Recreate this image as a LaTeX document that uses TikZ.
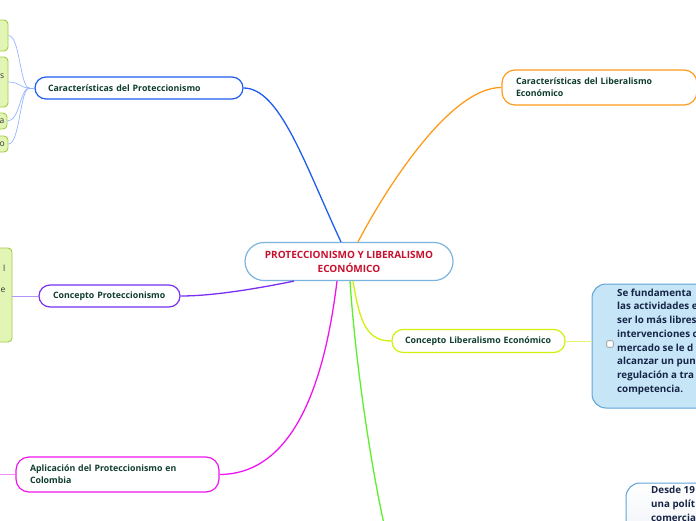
\documentclass[tikz,border=0pt]{standalone}
\usepackage{fontspec}
\setmainfont{Open Sans}
\definecolor{txtgreen}{RGB}{16,62,46}
\definecolor{cborder}{RGB}{122,180,222}
\definecolor{ctext}{RGB}{200,16,46}
\definecolor{cblue}{RGB}{31,92,240}
\definecolor{corange}{RGB}{255,155,26}
\definecolor{cpurple}{RGB}{122,47,240}
\definecolor{cmagenta}{RGB}{240,20,240}
\definecolor{cyellow}{RGB}{210,240,10}
\definecolor{cgreen}{RGB}{92,240,42}
\definecolor{leafgfill}{RGB}{227,245,180}
\definecolor{leafgdraw}{RGB}{160,205,70}
\definecolor{leafbfill}{RGB}{198,230,248}
\definecolor{leafbdraw}{RGB}{94,163,214}
\definecolor{navy}{RGB}{22,36,70}
\definecolor{greyfill}{RGB}{238,242,247}
\definecolor{lightblue}{RGB}{150,180,255}
\definecolor{lightpurple}{RGB}{180,150,250}
\definecolor{lightmagenta}{RGB}{250,140,250}
\definecolor{lightyellow}{RGB}{230,245,120}
\begin{document}
\begin{tikzpicture}[x=1pt,y=-1pt,
  topic/.style={draw, line width=1.2pt, fill=white, text=txtgreen,
    font=\fontsize{8.8}{12}\selectfont\bfseries, inner sep=0pt, align=left},
  central/.style={draw=cborder, line width=1.2pt, fill=white, text=ctext,
    font=\fontsize{10}{14}\selectfont\bfseries, inner sep=0pt, align=center,
    rounded corners=19pt, minimum width=208pt, minimum height=38pt},
  leafg/.style={draw=leafgdraw, line width=0.9pt, fill=leafgfill, rounded corners=4pt, inner sep=0pt},
  leafb/.style={draw=leafbdraw, line width=1pt, fill=leafbfill, rounded corners=14pt, inner sep=0pt},
  leafgrey/.style={draw=leafbdraw, line width=1pt, top color=white, bottom color=greyfill, rounded corners=14pt, inner sep=0pt},
  frag/.style={font=\fontsize{8.5}{9}\selectfont, text=black!80, inner sep=0pt},
  leaftext/.style={font=\fontsize{9.8}{13.7}\selectfont\bfseries, text=navy, inner sep=0pt, align=left},
  conn/.style={line width=1.3pt},
  thin/.style={line width=0.7pt}
]
\useasboundingbox (0,0) rectangle (696,520);

% leaf boxes on the left
\node[leafg, minimum width=18pt, minimum height=31pt] (g1) at (-1,35.5) {};
\node[leafg, minimum width=18pt, minimum height=50pt] (g2) at (-1,82) {};
\node[leafg, minimum width=16pt, minimum height=16pt] (g3) at (-1,121) {};
\node[leafg, minimum width=18pt, minimum height=16pt] (g4) at (-1,144) {};
\node[leafg, minimum width=24pt, minimum height=94pt] (g5) at (0,295) {};
\node[frag, anchor=east] (f2) at (4.5,76) {s};
\node[frag, anchor=east] (f3) at (4.5,121) {a};
\node[frag, anchor=east] (f4) at (5,144) {o};
\node[frag, anchor=east] (f5a) at (5.5,268) {l};
\node[frag, anchor=east] (f5b) at (5.5,290) {e};

% right leaves
\node[leafb, minimum width=120pt, minimum height=124pt] (bl) at (652,346) {};
\node[leaftext, anchor=north west] (bltext) at (617,288.5) {Se fundamenta\\las actividades e\\ser lo más libres\\intervenciones c\\mercado se le d\\alcanzar un pun\\regulación a tra\\competencia.};
\node[draw=black!45, fill=white, line width=0.6pt, rounded corners=1pt, minimum size=6.5pt, inner sep=0pt] (chk) at (610,344) {};
\node[leafgrey, minimum width=96pt, minimum height=60pt] (gr) at (674,513) {};
\node[leaftext, anchor=north west] (grtext) at (651,486) {Desde 19\\una polít\\comercia};

% central
\node[central] (c) at (349,261.5) {PROTECCIONISMO Y LIBERALISMO\\ECONÓMICO};

% topics
\node[topic, draw=cblue, rounded corners=11pt, minimum width=208pt, minimum height=22pt, text width=182pt] (cp) at (139,88) {Características del Proteccionismo};
\node[topic, draw=corange, rounded corners=13pt, minimum width=195pt, minimum height=35pt, text width=167pt] (cl) at (599.5,87.5) {Características del Liberalismo\\Económico};
\node[topic, draw=cpurple, rounded corners=11pt, minimum width=141pt, minimum height=22pt, text width=113pt] (kp) at (109.5,296) {Concepto Proteccionismo};
\node[topic, draw=cyellow, rounded corners=11pt, minimum width=173pt, minimum height=23pt, text width=147pt] (kl) at (478.5,341) {Concepto Liberalismo Económico};
\node[topic, draw=cmagenta, rounded corners=13pt, minimum width=203pt, minimum height=35pt, text width=175pt] (ap) at (117.5,474.5) {Aplicación del Proteccionismo en\\Colombia};

\coordinate (gend) at (384,524);
\coordinate (mend) at (-3,474.5);
\coordinate (j1) at ([xshift=-5pt]cp.west);

% main connectors
\draw[conn, cblue] ([xshift=-8pt]c.north) .. controls (305,165) and (280,88) .. (cp.east);
\draw[conn, corange] ([xshift=9pt]c.north) .. controls (385,190) and (450,87) .. (cl.west);
\draw[conn, cpurple] ([xshift=-55pt]c.south) .. controls (250,290) and (210,296) .. (kp.east);
\draw[conn, cmagenta] ([xshift=-12pt]c.south) .. controls (325,380) and (295,474) .. (ap.east);
\draw[conn, cyellow] ([xshift=4pt]c.south) .. controls (360,325) and (368,341) .. (kl.west);
\draw[conn, cgreen] ([xshift=1pt]c.south) .. controls (356,370) and (372,470) .. (gend);

% sub connectors
\draw[thin, lightblue] (j1) -- (cp.west);
\draw[thin, lightblue] (j1) .. controls (20,88) and (20,35.5) .. (g1.east);
\draw[thin, lightblue] (j1) .. controls (20,88) and (20,82) .. (g2.east);
\draw[thin, lightblue] (j1) .. controls (20,88) and (20,121) .. (g3.east);
\draw[thin, lightblue] (j1) .. controls (20,88) and (20,144) .. (g4.east);
\draw[thin, lightpurple] (g5.east |- kp.west) -- (kp.west);
\draw[thin, lightmagenta] (mend) -- (ap.west);
\draw[thin, lightyellow] (kl.east) -- (kl.east -| bl.west);
\end{tikzpicture}
\end{document}
